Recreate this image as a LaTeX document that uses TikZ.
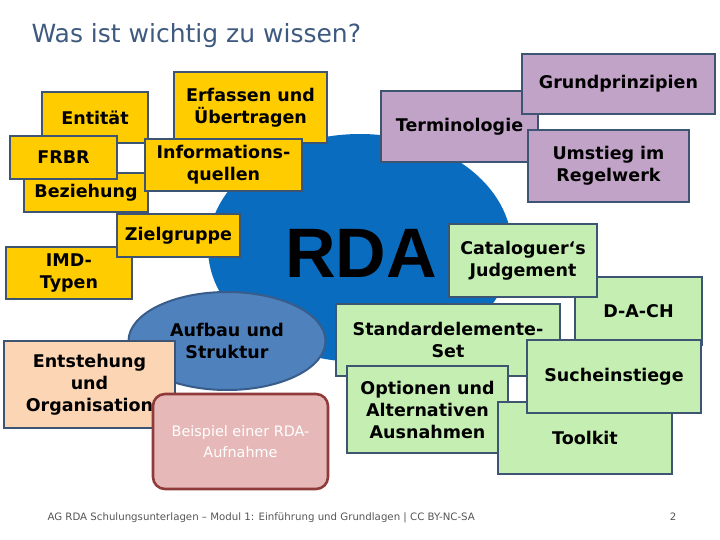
\documentclass[tikz,border=0pt]{standalone}
\usepackage{fontspec}
\setmainfont{DejaVu Sans}
\newfontfamily\rdafont{Liberation Sans}
\usepackage{xcolor}
\usepackage{tikz}
\usetikzlibrary{shapes.geometric}
\definecolor{rdablue}{HTML}{0A6CBE}
\definecolor{rdaedge}{HTML}{3D5473}
\definecolor{rdaylw}{HTML}{FFCC00}
\definecolor{rdalila}{HTML}{C2A3C8}
\definecolor{rdagreen}{HTML}{C5EEB2}
\definecolor{rdapeach}{HTML}{FCD5B5}
\definecolor{rdarose}{HTML}{E6B9B8}
\definecolor{rdarosedge}{HTML}{8E3B3A}
\definecolor{rdasteel}{HTML}{4F81BD}
\definecolor{rdasteeledge}{HTML}{385D8A}
\definecolor{rdatitle}{HTML}{3E5A7F}
\definecolor{rdagray}{HTML}{555555}

\begin{document}
\begin{tikzpicture}[x=1pt,y=-1pt,
  box/.style={draw=rdaedge,line width=2.6pt,align=center,inner sep=0pt,font=\fontsize{17.5}{22}\selectfont\bfseries},
  ybox/.style={box,fill=rdaylw},
  pbox/.style={box,fill=rdalila},
  gbox/.style={box,fill=rdagreen},
  obox/.style={box,fill=rdapeach},
  rbox/.style={draw=rdarosedge,fill=rdarose,line width=2.6pt,rounded corners=12pt,align=center,text=white,font=\fontsize{14.4}{21}\selectfont},
  blob/.style={ellipse,inner sep=0pt},
  small/.style={text=rdagray,font=\fontsize{10.2}{12}\selectfont}]
  \useasboundingbox (0,0) rectangle (720,540);
  \node[rdatitle,anchor=base west,font=\fontsize{25}{30}\selectfont] (title) at (28,43) {Was ist wichtig zu wissen?};
  % big RDA blob
  \node[blob,fill=rdablue,minimum width=304,minimum height=228] (rda) at (360,248) {};
  \node[font=\rdafont\fontsize{70}{72}\selectfont\bfseries] (rdaword) at (361,253) {RDA};
  % yellow boxes
  \node[ybox,minimum width=106,minimum height=51] (entitaet) at (95,117.5) {Entität};
  \node[ybox,minimum width=124,minimum height=39] (beziehung) at (86,192.5) {Beziehung};
  \node[ybox,minimum width=107,minimum height=43] (frbr) at (63.5,157.5) {FRBR};
  \node[ybox,minimum width=153,minimum height=71] (erfassen) at (250.5,107.5) {Erfassen und\\Übertragen};
  \node[ybox,minimum width=157,minimum height=52] (quellen) at (223.5,165) {Informations-\\quellen};
  \node[ybox,minimum width=126,minimum height=52] (imd) at (69,273) {IMD-\\Typen};
  \node[ybox,minimum width=123,minimum height=43] (ziel) at (178.5,235.5) {Zielgruppe};
  % purple boxes
  \node[pbox,minimum width=157,minimum height=71] (termin) at (459.5,126.5) {Terminologie};
  \node[pbox,minimum width=193,minimum height=60] (grund) at (618.5,84) {Grundprinzipien};
  \node[pbox,minimum width=161,minimum height=72] (umstieg) at (608.5,166) {Umstieg im\\Regelwerk};
  % green boxes
  \node[gbox,minimum width=127,minimum height=68] (dach) at (638.5,311) {D-A-CH};
  \node[gbox,minimum width=148,minimum height=73] (judge) at (523,260.5) {Cataloguer‘s\\Judgement};
  \node[gbox,minimum width=224,minimum height=72] (elemente) at (448,340) {Standardelemente-\\Set};
  \node[gbox,minimum width=161,minimum height=87] (optionen) at (427.5,409.5) {Optionen und\\Alternativen\\Ausnahmen};
  \node[gbox,minimum width=174,minimum height=72] (toolkit) at (585,438) {Toolkit};
  \node[gbox,minimum width=174,minimum height=73] (suche) at (614,376.5) {Sucheinstiege};
  % lower left
  \node[blob,draw=rdasteeledge,fill=rdasteel,line width=2pt,minimum width=197,minimum height=98,font=\fontsize{17.5}{22}\selectfont\bfseries,align=center] (aufbau) at (227,341) {Aufbau und\\Struktur};
  \node[obox,minimum width=171,minimum height=87] (entstehung) at (89.5,384.5) {Entstehung\\und\\Organisation};
  \node[rbox,minimum width=175,minimum height=95] (beispiel) at (240.5,441.5) {Beispiel einer RDA-\\Aufnahme};
  % footer
  \node[small,anchor=base west] (footer) at (44,520) {AG RDA Schulungsunterlagen – Modul 1: Einführung und Grundlagen | CC BY-NC-SA};
  \node[small,anchor=base] (page) at (673,520) {2};
\end{tikzpicture}
\end{document}
